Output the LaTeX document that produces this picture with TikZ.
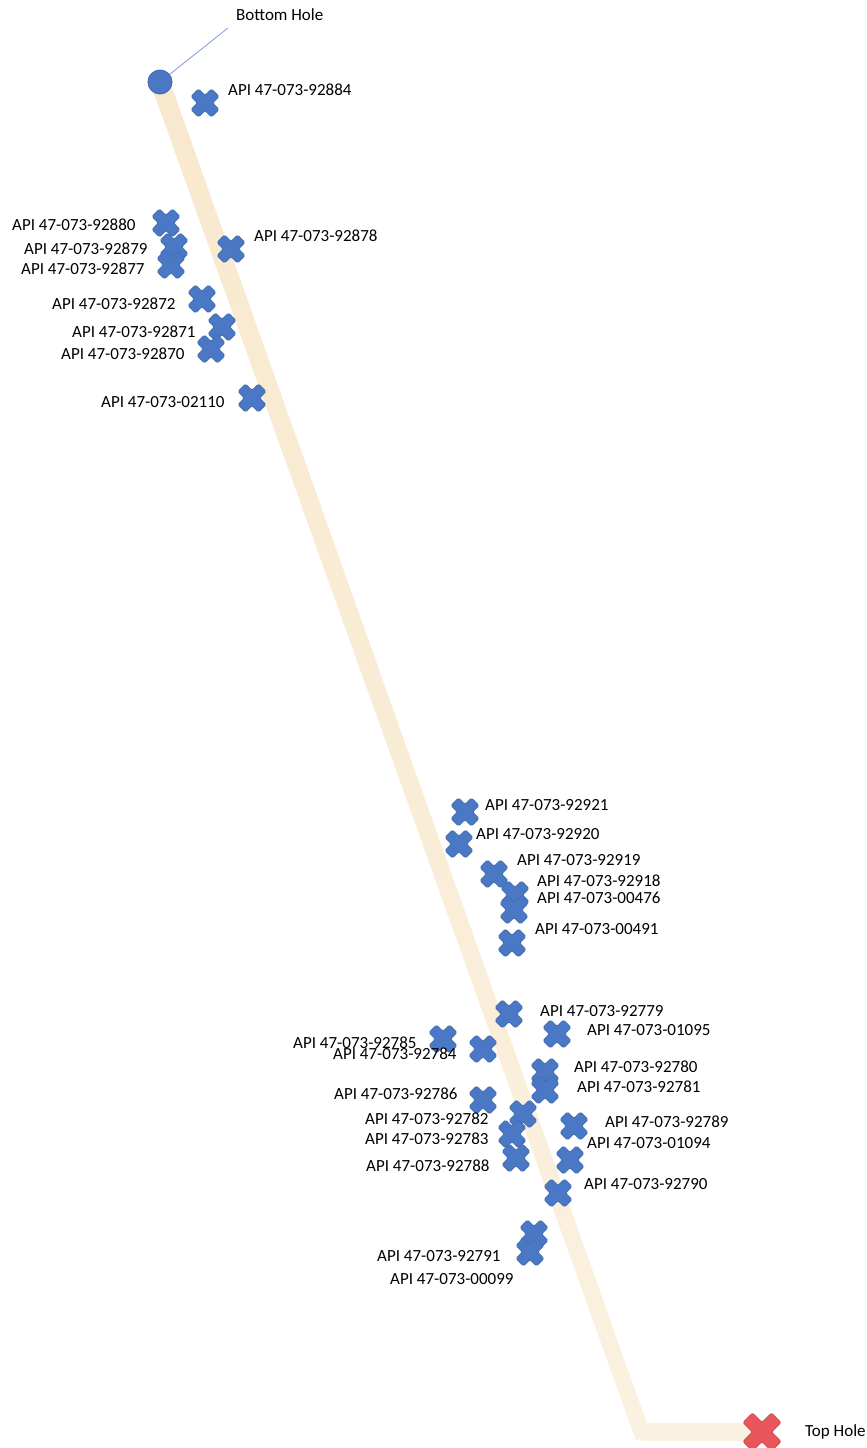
\documentclass[tikz,border=0pt]{standalone}
\usepackage{fontspec}
\setmainfont{Carlito}
\definecolor{trunkc}{HTML}{F8E8CE}
\definecolor{trunkend}{HTML}{FBF1E0}
\definecolor{wellfill}{HTML}{4A78C4}
\definecolor{welledge}{HTML}{4470B4}
\definecolor{redfill}{HTML}{E8555A}
\definecolor{rededge}{HTML}{D04E50}
\definecolor{leaderc}{HTML}{7F9BD8}
\tikzset{
  x=1pt,y=-1pt,
  lab/.style={anchor=west,inner sep=0pt,font=\fontsize{17}{18}\selectfont,text=black},
  wellmark/.style={fill=wellfill,draw=welledge,line width=1pt,rounded corners=1.5pt},
  topmark/.style={fill=redfill,draw=rededge,line width=1pt,rounded corners=2pt},
  pics/xmark/.style={code={
    \path[#1] (-6.5,-14)--(0,-7.5)--(6.5,-14)--(14,-6.5)--(7.5,0)--(14,6.5)--(6.5,14)--(0,7.5)--(-6.5,14)--(-14,6.5)--(-7.5,0)--(-14,-6.5)--cycle;
  }},
  pics/bigx/.style={code={
    \path[#1] (-9.5,-19)--(0,-9.5)--(9.5,-19)--(19,-9.5)--(9.5,0)--(19,9.5)--(9.5,19)--(0,9.5)--(-9.5,19)--(-19,9.5)--(-9.5,0)--(-19,-9.5)--cycle;
  }}
}
\newcommand{\wellat}[3]{\coordinate (w#1) at (#2,#3); \pic at (w#1) {xmark=wellmark};}
\newcommand{\labat}[3]{\node[lab] (l#1) at (#2,#3) {API 47-073-#1};}
\begin{document}
\begin{tikzpicture}
\useasboundingbox (0,0) rectangle (867,1448);
\fill[white] (0,0) rectangle (867,1448);
% well path
\coordinate (heel) at (641,1432);
\coordinate (tophole) at (762,1432);
\coordinate (bhc) at (160,82);
\draw[trunkend,line width=18pt,line join=miter] (heel) -- (tophole);
\draw[top color=trunkc,bottom color=trunkend,draw=none,shading angle=0] (151,85) -- (169,79) -- (650,1432) -- (636,1441) -- cycle;
\node[circle,minimum size=24pt,inner sep=0pt,fill=wellfill,draw=welledge,line width=1pt] (bottomhole) at (bhc) {};
\coordinate (leaderend) at (228,28);
\draw[leaderc,line width=0.8pt] (bottomhole) -- (leaderend);
% marks
\wellat{92884}{205}{103}
\wellat{92880}{166}{223}
\wellat{92879}{174}{247}
\wellat{92877}{171}{265}
\wellat{92878}{231}{249}
\wellat{92872}{202}{299}
\wellat{92871}{222}{327}
\wellat{92870}{211}{349}
\wellat{02110}{252}{398}
\wellat{92921}{465}{812}
\wellat{92920}{459}{844}
\wellat{92919}{494}{874}
\wellat{92918}{515}{895}
\wellat{00476}{514}{910}
\wellat{00491}{512}{943}
\wellat{92779}{509}{1014}
\wellat{01095}{557}{1034}
\wellat{92785}{443}{1039}
\wellat{92784}{483}{1049}
\wellat{92780}{545}{1072}
\wellat{92781}{545}{1090}
\wellat{92786}{483}{1100}
\wellat{92782}{523}{1114}
\wellat{92783}{512}{1134}
\wellat{92788}{516}{1158}
\wellat{92789}{574}{1126}
\wellat{01094}{570}{1160}
\wellat{92790}{558}{1193}
\wellat{00099}{534}{1234}
\wellat{92791}{530}{1252}
\pic at (tophole) {bigx=topmark};
% labels
\node[lab] (lbottom) at (236,15) {Bottom Hole};
\node[lab] (ltop) at (805,1432) {Top Hole};
\labat{92884}{228}{90}
\labat{92880}{12}{225}
\labat{92879}{24}{249}
\labat{92877}{21}{269}
\labat{92872}{52}{304}
\labat{92871}{72}{332}
\labat{92870}{61}{354}
\labat{02110}{101}{402}
\labat{92878}{254}{236}
\labat{92921}{485}{805}
\labat{92920}{476}{834}
\labat{92919}{517}{860}
\labat{92918}{537}{881}
\labat{00476}{537}{898}
\labat{00491}{535}{929}
\labat{92779}{540}{1011}
\labat{01095}{587}{1030}
\labat{92785}{293}{1043}
\labat{92784}{333}{1054}
\labat{92780}{574}{1067}
\labat{92781}{577}{1087}
\labat{92786}{334}{1094}
\labat{92782}{365}{1119}
\labat{92783}{365}{1139}
\labat{92788}{366}{1166}
\labat{92789}{605}{1122}
\labat{01094}{587}{1143}
\labat{92790}{584}{1184}
\labat{92791}{377}{1256}
\labat{00099}{390}{1279}
\end{tikzpicture}
\end{document}
